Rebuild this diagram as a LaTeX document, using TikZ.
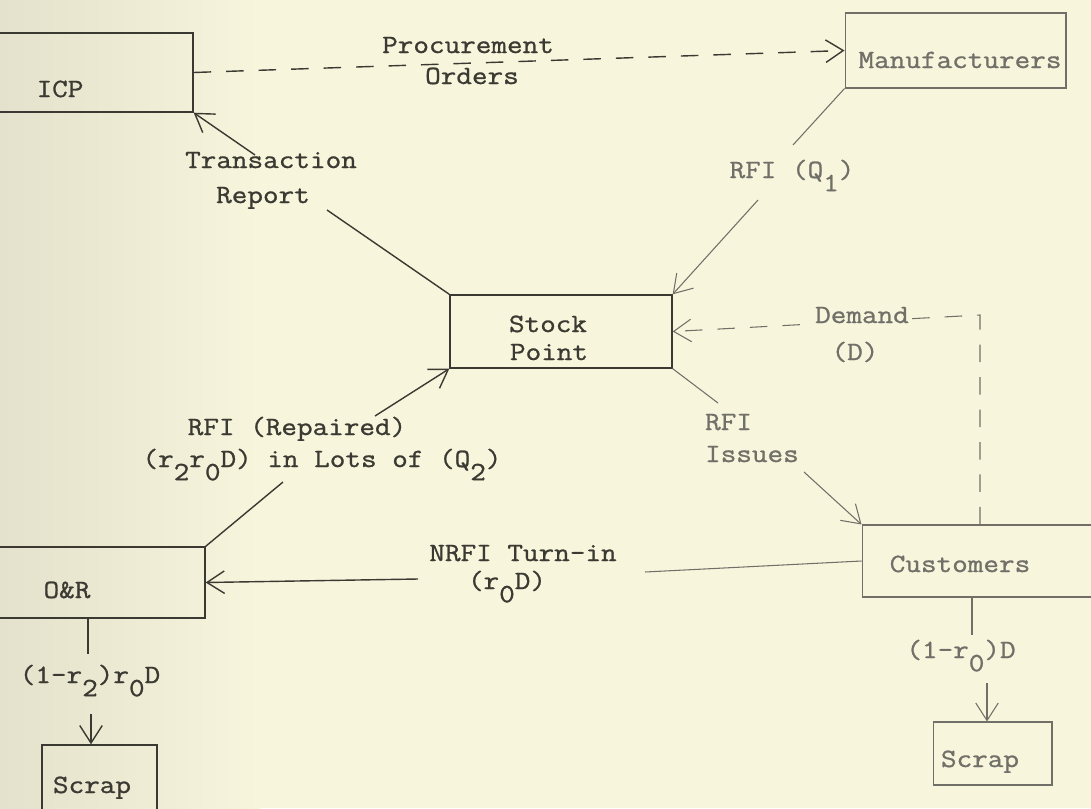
\documentclass[tikz,border=0pt]{standalone}
\usepackage{fontspec}
\newfontfamily\tw[FakeStretch=1.15,FakeBold=1]{Latin Modern Mono}
\usetikzlibrary{arrows.meta}
\definecolor{bg}{HTML}{F8F5DD}
\definecolor{bgdk}{HTML}{E4E1CC}
\definecolor{ink}{HTML}{3A3A32}
\definecolor{inklt}{HTML}{707068}
\newcommand\lo[1]{\raisebox{-0.5em}{#1}}
\begin{document}
\begin{tikzpicture}[x=0.02cm,y=-0.02cm,
  box/.style={draw=ink, line width=0.8pt, inner sep=0pt, rectangle},
  boxlt/.style={box, draw=inklt, line width=0.6pt},
  lbl/.style={font=\tw\fontsize{15}{18}\selectfont, text=ink, inner sep=1pt, anchor=base},
  lbllt/.style={lbl, text=inklt},
  conn/.style={draw=ink, line width=0.8pt},
  connlt/.style={draw=inklt, line width=0.6pt},
  tip/.style={-{Straight Barb[length=3.5mm,width=4.5mm]}},
  dsh/.style={dash pattern=on 3.5mm off 3mm}]
% background
\fill[bg] (0,0) rectangle (1091,808);
\shade[left color=bgdk, right color=bg] (0,0) rectangle (260,808);
\useasboundingbox (0,0) rectangle (1091,808);

% boxes
\node[box, minimum width=5.36cm, minimum height=1.58cm] (icp) at (59,72.5) {};
\node[boxlt, minimum width=4.42cm, minimum height=1.5cm] (man) at (955.5,50.5) {};
\node[box, minimum width=4.44cm, minimum height=1.46cm] (sp) at (561,331.5) {};
\node[boxlt, minimum width=5.36cm, minimum height=1.44cm] (cu) at (996,561) {};
\node[box, minimum width=5.6cm, minimum height=1.42cm] (or) at (65,582.5) {};
\node[box, minimum width=2.3cm, minimum height=1.9cm] (ls) at (99.5,792.5) {};
\node[boxlt, minimum width=2.38cm, minimum height=1.26cm] (rs) at (992.5,753.5) {};

% box texts
\node[lbl] (ticp) at (60,97) {ICP};
\node[lbllt] (tman) at (960,68) {Manufacturers};
\node[lbl] (tsp1) at (548,332) {Stock};
\node[lbl] (tsp2) at (549,360) {Point};
\node[lbllt] (tcu) at (960,572) {Customers};
\node[lbl] (tor) at (67,598) {O\&R};
\node[lbl] (tls) at (92,793) {Scrap};
\node[lbllt] (trs) at (980,767) {Scrap};

% procurement orders
\draw[conn, dsh, tip] (icp.east) -- (man.west);
\node[lbl] (pr1) at (468,53) {Procurement};
\node[lbl] (pr2) at (472,84) {Orders};

% transaction report
\coordinate (ta) at (255,155);
\coordinate (tb) at (327,210);
\draw[conn, tip] (ta) -- (icp.south east);
\draw[conn] (tb) -- (sp.north west);
\node[lbl] (tr1) at (271,168) {Transaction};
\node[lbl] (tr2) at (263,203) {Report};

% RFI (Q1)
\coordinate (qa) at (793,145);
\coordinate (qb) at (758,200);
\draw[connlt] (man.south west) -- (qa);
\draw[connlt, tip] (qb) -- (sp.north east);
\node[lbllt] (q1) at (792,178) {RFI (Q\lo{1})};

% demand
\coordinate (da) at (980,315);
\draw[connlt, dsh, tip] (da |- cu.north) -- (da) -- (sp.east);
\node[lbllt, fill=bg] (dm1) at (862,323) {Demand};
\node[lbllt] (dm2) at (855,360) {(D)};

% RFI issues
\coordinate (ia) at (718,403);
\coordinate (ib) at (804,472);
\draw[connlt] (sp.south east) -- (ia);
\draw[connlt, tip] (ib) -- (cu.north west);
\node[lbllt, anchor=base west] (is1) at (703,430) {RFI};
\node[lbllt, anchor=base west] (is2) at (703,462) {Issues};

% NRFI turn-in
\coordinate (na) at (645,572);
\coordinate (nb) at (418,579);
\draw[connlt] (cu.west) -- (na);
\draw[conn, tip] (nb) -- (or.east);
\node[lbl] (nr1) at (523,561) {NRFI Turn-in};
\node[lbl] (nr2) at (507,589) {(r\lo{0}D)};

% RFI repaired
\coordinate (ra) at (283,482);
\coordinate (rb) at (375,416);
\draw[conn] (or.north east) -- (ra);
\draw[conn, tip] (rb) -- (sp.south west);
\node[lbl] (rp1) at (297,435) {RFI (Repaired)};
\node[lbl] (rp2) at (322,467) {(r\lo{2}r\lo{0}D) in Lots of (Q\lo{2})};

% O&R to scrap
\coordinate (la) at (88,654);
\coordinate (lb) at (91,714);
\draw[conn] (or.south -| la) -- (la);
\draw[conn, tip] (lb) -- (lb |- ls.north);
\node[lbl] (ol) at (90,683) {(1-r\lo{2})r\lo{0}D};

% customers to scrap
\coordinate (xa) at (972,635);
\coordinate (xb) at (987,683);
\draw[connlt] (cu.south -| xa) -- (xa);
\draw[connlt, tip] (xb) -- (xb |- rs.north);
\node[lbllt] (cl) at (961,658) {(1-r\lo{0})D};
\end{tikzpicture}
\end{document}
